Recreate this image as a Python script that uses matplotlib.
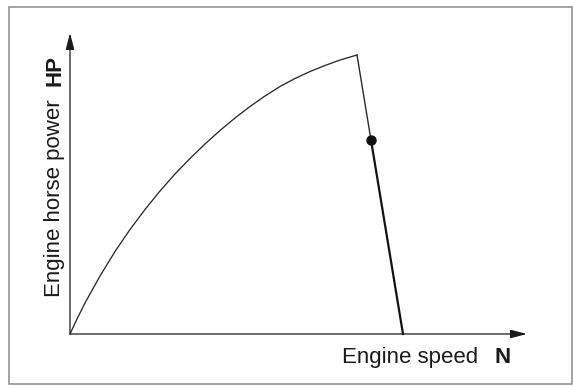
import matplotlib
matplotlib.use("Agg")
import matplotlib.pyplot as plt
from matplotlib.patches import Rectangle

# ---- data (arbitrary units) ----
speed = [0, 7, 15, 30, 45, 60, 75, 90, 105, 120, 135, 150, 165, 180, 195,
         210, 225, 240, 255, 270, 287]
power = [0, 15, 31, 58, 82.5, 104.5, 124.5, 143, 160, 175.5, 190, 203.5, 216,
         227.5, 238, 247.5, 255.5, 262.5, 268.5, 274, 279]
drop_speed = [287, 301, 333]
drop_power = [279, 194, 0]
point_speed = [301]
point_power = [194]
x_max = 457
y_max = 301
xlabel_text = "Engine speed"
xlabel_sym = "N"
ylabel_text = "Engine horse power"
ylabel_sym = "HP"

W, H = 573, 385
fig = plt.figure(figsize=(W / 100, H / 100), dpi=100)
fig.patch.set_facecolor("white")

def fx(px):
    return px / W

def fy(py):
    return (H - py) / H

ax = fig.add_axes([fx(70), fy(334), fx(527) - fx(70), fy(33) - fy(334)])
ax.set_xlim(0, x_max)
ax.set_ylim(0, y_max)
ax.axis("off")

ink = "#2a2a2a"
ax.plot(speed, power, color=ink, lw=0.95, solid_joinstyle="round", clip_on=False)
ax.plot(drop_speed[:2], drop_power[:2], color=ink, lw=1.0, clip_on=False)
ax.plot(drop_speed[1:], drop_power[1:], color="#111111", lw=1.6, clip_on=False)
ax.plot(point_speed, point_power, "o", color="#111111", ms=6.5, clip_on=False)

arrow_kw = dict(arrowstyle="-|>,head_length=10,head_width=2.6", mutation_scale=1,
                color="#1a1a1a", lw=0.9, shrinkA=0, shrinkB=0)
ax.annotate("", xy=(1, 0), xytext=(0, 0), xycoords="axes fraction",
            textcoords="axes fraction", arrowprops=arrow_kw, annotation_clip=False)
ax.annotate("", xy=(0, 1), xytext=(0, 0), xycoords="axes fraction",
            textcoords="axes fraction", arrowprops=arrow_kw, annotation_clip=False)

font = "Liberation Sans"
fs = 16
fig.text(fx(342), fy(363), xlabel_text, family=font, fontsize=fs, color="#1a1a1a",
         ha="left", va="baseline")
fig.text(fx(495), fy(363), xlabel_sym, family=font, fontsize=fs, weight="bold",
         color="#1a1a1a", ha="left", va="baseline")
fig.text(fx(60), fy(297), ylabel_text, family=font, fontsize=fs, color="#1a1a1a",
         rotation=90, rotation_mode="anchor", ha="left", va="baseline")
fig.text(fx(60), fy(86), ylabel_sym, family=font, fontsize=fs, weight="bold",
         color="#1a1a1a", rotation=90, rotation_mode="anchor", ha="left", va="baseline")

fig.patches.append(Rectangle((fx(9), fy(384)), fx(572) - fx(9), fy(7) - fy(384),
                             transform=fig.transFigure, fill=False,
                             edgecolor="#8a8a8a", lw=1.1))

fig.savefig("out.png", dpi=100, facecolor="white")
